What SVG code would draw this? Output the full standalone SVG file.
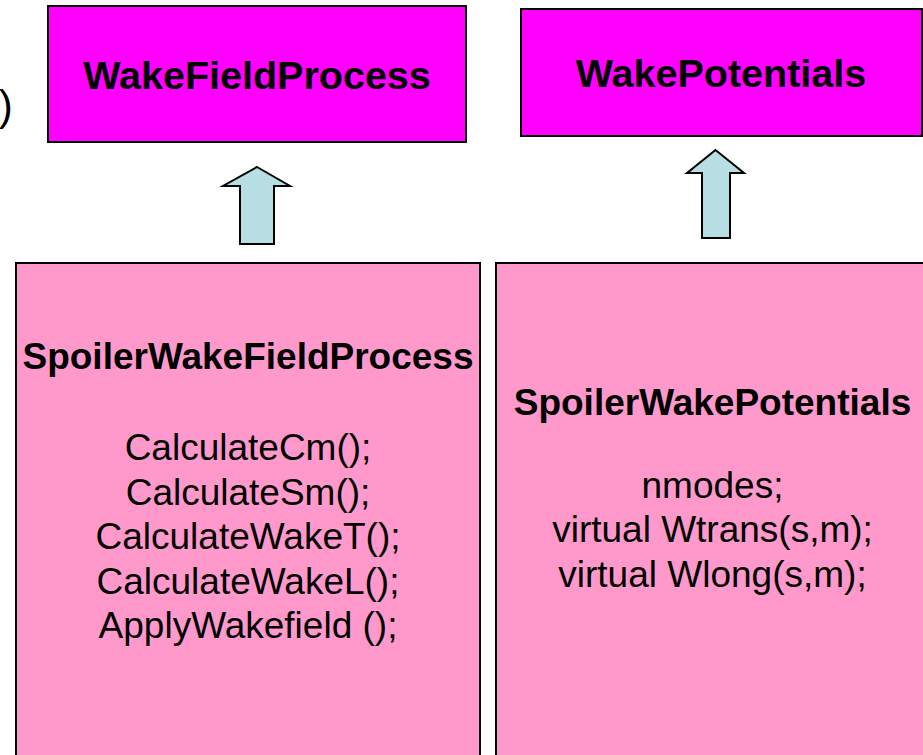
<svg xmlns="http://www.w3.org/2000/svg" width="923" height="755" viewBox="0 0 923 755">
<style>
.top{fill:#FF00FF;stroke:#000;stroke-width:2}
.sub{fill:#FF99CC;stroke:#000;stroke-width:2}
.arr{fill:#B7DFE3;stroke:#000;stroke-width:2;stroke-linejoin:miter}
text{font-family:"Liberation Sans",Arial,sans-serif;fill:#000;text-anchor:middle}
.b{font-weight:bold}
.h1{font-size:39.5px;font-weight:bold}
.t{font-size:37px}
</style>
<rect width="923" height="755" fill="#fff"/>
<text x="12.7" y="120" style="font-size:42px;text-anchor:end">)</text>
<g id="WakeFieldProcess">
<rect class="top" x="48" y="6" width="418" height="136"/>
<text class="h1" x="257" y="89">WakeFieldProcess</text>
</g>
<g id="WakePotentials">
<rect class="top" x="521" y="9" width="401" height="127"/>
<text class="h1" x="721" y="87">WakePotentials</text>
</g>
<g id="SpoilerWakeFieldProcess">
<rect class="sub" x="16" y="263" width="464" height="520"/>
<text class="t b" x="248" y="369">SpoilerWakeFieldProcess</text>
<text class="t" x="248" y="460">CalculateCm();</text>
<text class="t" x="248" y="505">CalculateSm();</text>
<text class="t" x="248" y="549">CalculateWakeT();</text>
<text class="t" x="248" y="594">CalculateWakeL();</text>
<text class="t" x="248" y="638">ApplyWakefield ();</text>
</g>
<g id="SpoilerWakePotentials">
<rect class="sub" x="496" y="263" width="440" height="520"/>
<text class="t b" x="712.5" y="415">SpoilerWakePotentials</text>
<text class="t" x="712.5" y="498">nmodes;</text>
<text class="t" x="712.5" y="542">virtual Wtrans(s,m);</text>
<text class="t" x="712.5" y="587">virtual Wlong(s,m);</text>
</g>
<g id="connectors">
<polygon class="arr" points="257,167 290,186 274,186 274,244 240,244 240,186 223,186"/>
<polygon class="arr" points="715.5,150 744,173 730,173 730,238 702,238 702,173 687,173"/>
</g>
</svg>
